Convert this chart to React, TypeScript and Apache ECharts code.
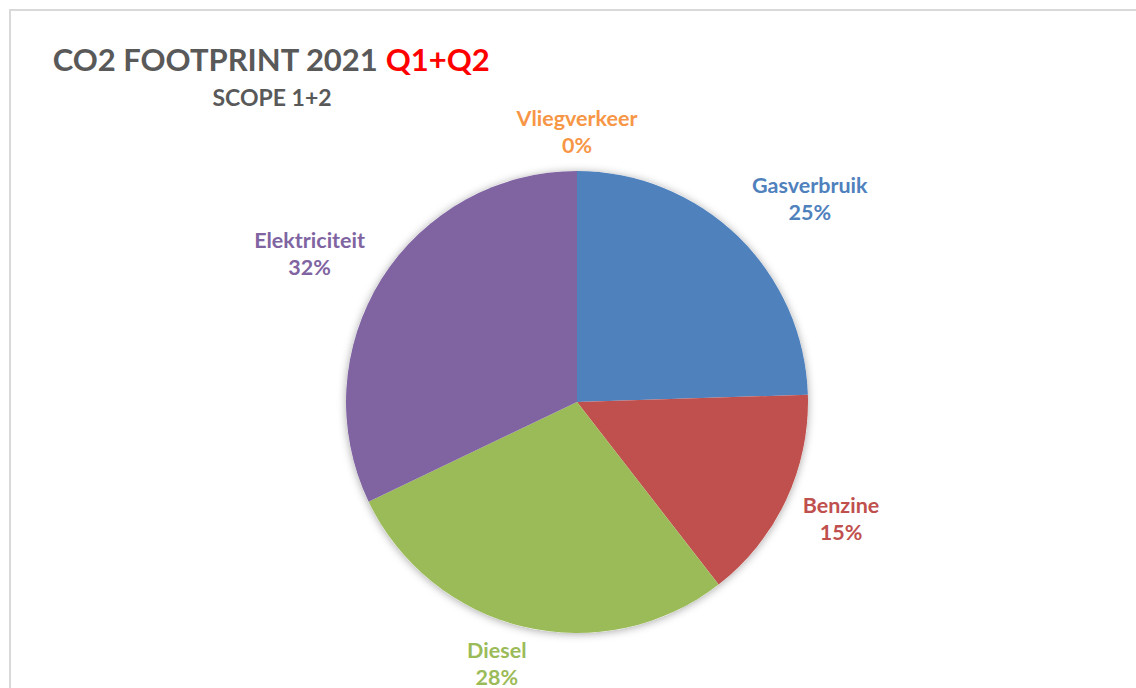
import React, { useEffect, useRef } from "react";
import * as echarts from "echarts";

const categories = ["Gasverbruik", "Benzine", "Diesel", "Elektriciteit", "Vliegverkeer"];
const values = [24.5, 15.0, 28.4, 32.1, 0];
const sliceColors = ["#4f81bd", "#c0504d", "#9bbb59", "#8064a2", "#f79646"];
const titleMain = "CO2 FOOTPRINT 2021 ";
const titleHighlight = "Q1+Q2";
const subtitle = "SCOPE 1+2";

// styling / layout (not data)
const CX = 577;
const CY = 402;
const R = 231;
const labelOffsets = [
  [72, -38],
  [55, 18],
  [-27, 37],
  [-72, -25],
  [0, -40],
];
const FONT = "Lato";

export default function App() {
  const ref = useRef<HTMLDivElement>(null);
  useEffect(() => {
    if (!ref.current) return;
    const chart = echarts.init(ref.current, null, { renderer: "svg" });
    const total = values.reduce((a, b) => a + b, 0);
    const midAngles: number[] = [];
    let acc = -90;
    values.forEach((v) => {
      const span = (v / total) * 360;
      midAngles.push(acc + span / 2);
      acc += span;
    });

    chart.setOption({
      animation: false,
      backgroundColor: "#ffffff",
      graphic: [
        {
          type: "rect",
          silent: true,
          shape: { x: 10, y: 10, width: 1300, height: 900 },
          style: { fill: "none", stroke: "#d9d9d9", lineWidth: 2 },
          z: 0,
        },
        {
          type: "text",
          x: 271,
          y: 59,
          style: {
            text: `{a|${titleMain}}{b|${titleHighlight}}`,
            align: "center",
            verticalAlign: "middle",
            rich: {
              a: { fontFamily: FONT, fontWeight: "bold", fontSize: 31, fill: "#595959" },
              b: { fontFamily: FONT, fontWeight: "bold", fontSize: 31, fill: "#ff0000" },
            },
          },
        },
        {
          type: "text",
          x: 272,
          y: 97,
          style: {
            text: subtitle,
            align: "center",
            verticalAlign: "middle",
            fontFamily: FONT,
            fontWeight: "bold",
            fontSize: 23,
            fill: "#595959",
          },
        },
      ],
      series: [
        {
          type: "pie",
          silent: true,
          center: [CX, CY],
          radius: R,
          label: { show: false },
          labelLine: { show: false },
          itemStyle: {
            color: "#ffffff",
            shadowBlur: 8,
            shadowColor: "rgba(0,0,0,0.35)",
            shadowOffsetY: 1,
          },
          data: [{ value: 1, name: "" }],
          z: 1,
        },
        {
          type: "pie",
          center: [CX, CY],
          radius: R,
          startAngle: 90,
          clockwise: true,
          percentPrecision: 0,
          avoidLabelOverlap: false,
          data: categories.map((name, i) => ({
            name,
            value: values[i],
            itemStyle: { color: sliceColors[i] },
            label: { color: sliceColors[i] },
          })),
          itemStyle: { borderWidth: 0 },
          label: {
            show: true,
            position: "outside",
            formatter: "{b}\n{d}%",
            fontFamily: FONT,
            fontWeight: "bold",
            fontSize: 21.5,
            lineHeight: 27,
          },
          labelLine: { show: false },
          labelLayout: (p: any) => {
            const i = p.dataIndex;
            const a = (midAngles[i] * Math.PI) / 180;
            const ex = CX + R * Math.cos(a);
            const ey = CY + R * Math.sin(a);
            return {
              x: ex + labelOffsets[i][0],
              y: ey + labelOffsets[i][1],
              align: "center",
              verticalAlign: "middle",
            };
          },
          z: 2,
        },
      ],
    });
    return () => chart.dispose();
  }, []);
  return (
    <div
      ref={ref}
      style={{ position: "absolute", left: 0, top: 0, width: 1136, height: 688 }}
    />
  );
}
